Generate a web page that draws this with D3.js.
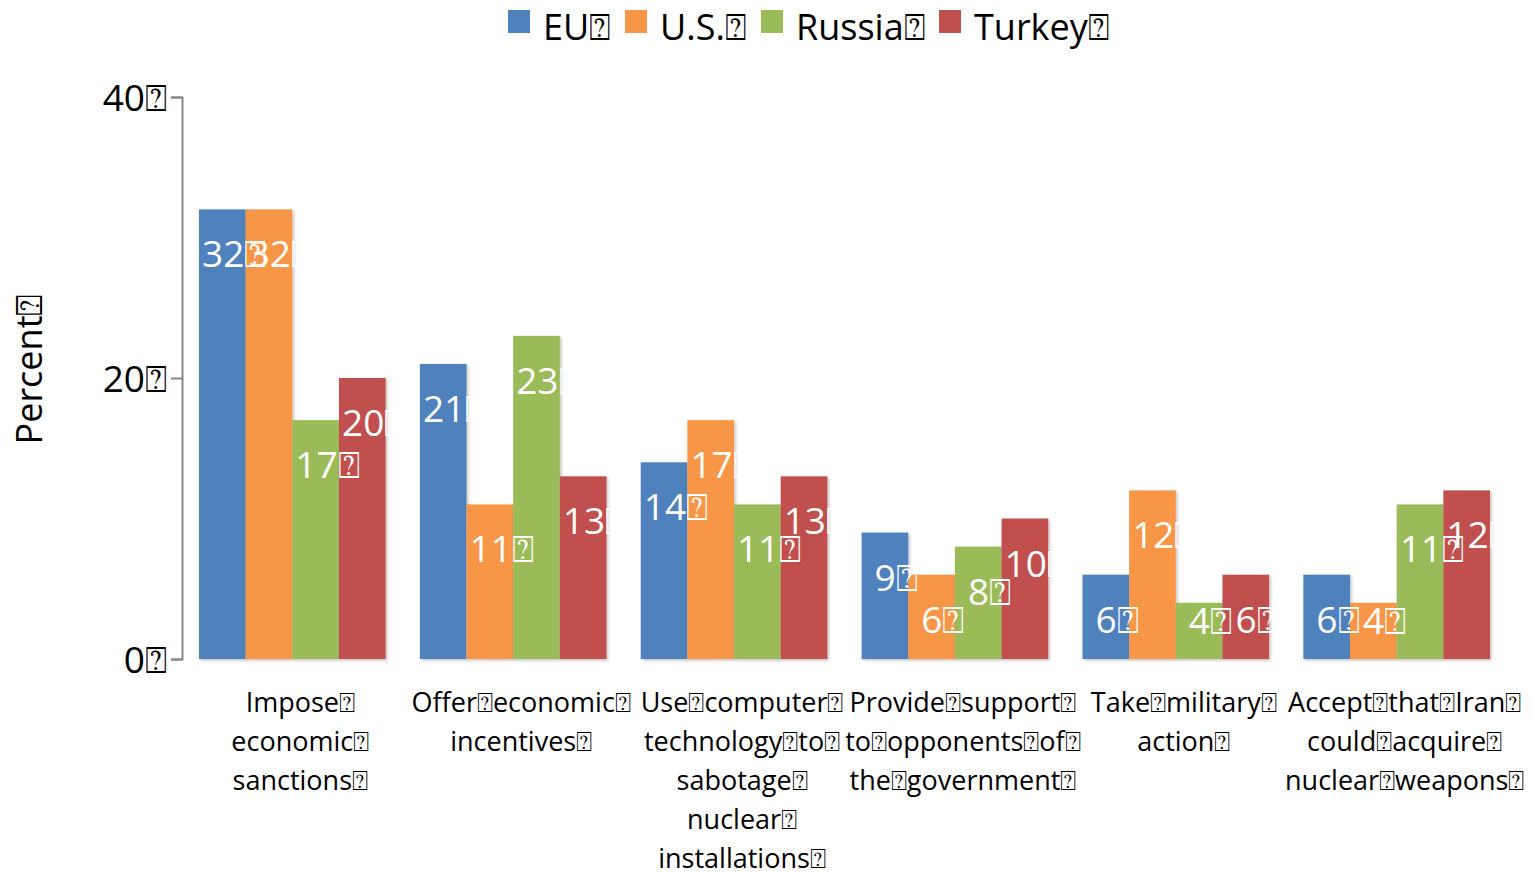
<!DOCTYPE html>
<html>
<head>
<meta charset="utf-8">
<script src="https://cdn.jsdelivr.net/npm/d3@7"></script>
<style>
  body { margin: 0; background: #fff; }
  svg { display: block; }
</style>
</head>
<body>
<svg id="chart" width="1534" height="872"></svg>
<script>
// the source text has an unrenderable char in place of spaces, drawn as a boxed "?"
const T = '\u2370';

const categories = [
  'Impose\neconomic\nsanctions',
  'Offer economic\nincentives',
  'Use computer\ntechnology to\nsabotage\nnuclear\ninstallations',
  'Provide support\nto opponents of\nthe government',
  'Take military\naction',
  'Accept that Iran\ncould acquire\nnuclear weapons'
];
const seriesNames = ['EU', 'U.S.', 'Russia', 'Turkey'];
const colors = ['#4F81BD', '#F79646', '#9BBB59', '#C0504D'];
const euValues = [32, 21, 14, 9, 6, 6];
const usValues = [32, 11, 17, 6, 12, 4];
const russiaValues = [17, 23, 11, 8, 4, 11];
const turkeyValues = [20, 13, 13, 10, 6, 12];
const yTicks = [0, 20, 40];

const allValues = [euValues, usValues, russiaValues, turkeyValues];

const svg = d3.select('#chart');
const width = 1534, height = 872;
const margin = { top: 97, right: 27, bottom: 213, left: 182 };
const innerW = width - margin.left - margin.right;
const innerH = height - margin.top - margin.bottom;
const FONT = '"Open Sans", sans-serif';

const defs = svg.append('defs');
const shadow = defs.append('filter').attr('id', 'shadow')
  .attr('x', '-20%').attr('y', '-5%').attr('width', '140%').attr('height', '110%');
shadow.append('feDropShadow')
  .attr('dx', 1.5).attr('dy', 1.5).attr('stdDeviation', 1.5)
  .attr('flood-color', '#000').attr('flood-opacity', 0.25);

const g = svg.append('g').attr('transform', `translate(${margin.left},${margin.top})`);

const x0 = d3.scaleBand()
  .domain(d3.range(categories.length))
  .range([0, innerW])
  .paddingInner(0.155)
  .paddingOuter(0.077);

const x1 = d3.scaleBand()
  .domain(d3.range(seriesNames.length))
  .range([0, x0.bandwidth()]);

const y = d3.scaleLinear().domain([0, 40]).range([innerH, 0]);

// y axis
const yAxis = g.append('g')
  .call(d3.axisLeft(y).tickValues(yTicks).tickSize(11).tickPadding(4).tickFormat(d => d + T));
yAxis.select('.domain').attr('stroke', '#888').attr('stroke-width', 2);
yAxis.selectAll('.tick line').attr('stroke', '#888').attr('stroke-width', 2);
yAxis.selectAll('.tick text')
  .attr('fill', '#000')
  .attr('dy', '0.36em')
  .style('font-family', FONT)
  .style('font-size', '37px');

// bars
const groups = g.selectAll('.cat')
  .data(categories)
  .enter().append('g')
  .attr('class', 'cat')
  .attr('transform', (d, i) => `translate(${x0(i)},0)`);

groups.selectAll('rect')
  .data((d, i) => allValues.map((vals, s) => ({ s, v: vals[i] })))
  .enter().append('rect')
  .attr('x', d => x1(d.s))
  .attr('y', d => y(d.v))
  .attr('width', x1.bandwidth())
  .attr('height', d => y(0) - y(d.v))
  .attr('fill', d => colors[d.s])
  .attr('filter', 'url(#shadow)');

// x axis line
g.append('line')
  .attr('x1', -11).attr('x2', innerW)
  .attr('y1', y(0)).attr('y2', y(0))
  .attr('stroke', '#888').attr('stroke-width', 2.5)
  .attr('filter', 'url(#shadow)');

// value labels, kept above the baseline on short bars; single digits sit a digit in
groups.selectAll('text.val')
  .data((d, i) => allValues.map((vals, s) => ({ s, v: vals[i] })))
  .enter().append('text')
  .attr('class', 'val')
  .attr('x', d => x1(d.s) + 3 + (d.v < 10 ? 10 : 0))
  .attr('y', d => Math.min(y(d.v) + 58, y(0) - 25))
  .attr('fill', '#fff')
  .style('font-family', FONT)
  .style('font-size', '37px')
  .text(d => d.v + T);

// category labels
groups.each(function (d, i) {
  const lines = d.split('\n');
  const t = d3.select(this).append('text')
    .attr('text-anchor', 'middle')
    .attr('fill', '#000')
    .style('font-family', FONT)
    .style('font-size', '27px');
  lines.forEach((ln, k) => {
    t.append('tspan')
      .attr('x', x0.bandwidth() / 2 + 8)
      .attr('y', innerH + 53 + k * 39)
      .text(ln.split(' ').join(T) + T);
  });
});

// y title
svg.append('text')
  .attr('transform', 'translate(42,369) rotate(-90)')
  .attr('text-anchor', 'middle')
  .attr('fill', '#000')
  .style('font-family', FONT)
  .style('font-size', '36px')
  .text('Percent' + T);

// legend
const legendX = [508, 625, 761, 939];
const legend = svg.append('g');
seriesNames.forEach((name, s) => {
  const lg = legend.append('g').attr('transform', `translate(${legendX[s]},10)`);
  lg.append('rect').attr('width', 22).attr('height', 23).attr('fill', colors[s]);
  lg.append('text')
    .attr('x', 35).attr('y', 30)
    .attr('fill', '#000')
    .style('font-family', FONT)
    .style('font-size', '36px')
    .text(name + T);
});
</script>
</body>
</html>
